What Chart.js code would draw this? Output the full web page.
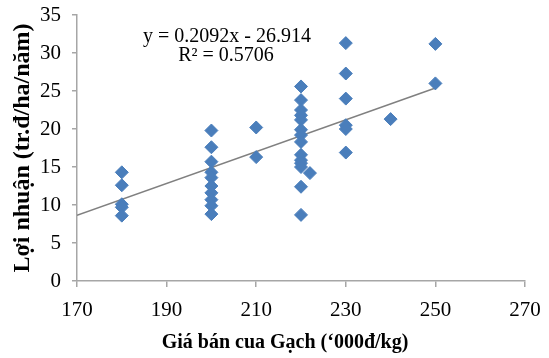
<!DOCTYPE html>
<html lang="vi">
<head>
<meta charset="UTF-8">
<title>Lợi nhuận theo giá bán cua Gạch</title>
<script src="https://cdn.jsdelivr.net/npm/chart.js"></script>
<style>
  html, body { margin: 0; padding: 0; background: #fff; }
  .chart-container { width: 549px; height: 358px; }
</style>
</head>
<body>
<div class="chart-container">
  <canvas id="profitChart"></canvas>
</div>
<script>
// Giá bán (nghìn đồng/kg) và lợi nhuận (tr.đ/ha/năm) của từng hộ
const priceX = [
  180, 180, 180, 180, 180,
  200, 200, 200, 200, 200, 200, 200, 200, 200, 200,
  210, 210,
  220, 220, 220, 220, 220, 220, 220, 220, 220, 220, 220, 220, 220, 220,
  222,
  230, 230, 230, 230, 230, 230,
  240,
  250, 250
];
const profitY = [
  14.3, 12.6, 10.1, 9.7, 8.6,
  19.8, 17.6, 15.7, 14.3, 13.6, 12.5, 11.6, 10.7, 9.9, 8.8,
  20.2, 16.3,
  25.6, 23.8, 22.5, 21.8, 21.2, 19.9, 19.2, 18.3, 16.6, 15.9, 15.5, 15.0, 12.4, 8.7,
  14.2,
  31.3, 27.3, 24.0, 20.5, 20.0, 16.9,
  21.3,
  31.2, 26.0
];

// Đường xu hướng tuyến tính (theo phương trình hiển thị)
const trendSlope = 0.2092;
const trendIntercept = -26.914;
const trendRange = [170, 250];
const trendLabels = ['y = 0.2092x - 26.914', 'R² = 0.5706'];

// Vạch chia trục
const xTicks = [170, 190, 210, 230, 250, 270];
const yTicks = [0, 5, 10, 15, 20, 25, 30, 35];

const xTitle = 'Giá bán cua Gạch (‘000đ/kg)';
const yTitle = 'Lợi nhuận (tr.đ/ha/năm)';

const points = priceX.map((x, i) => ({ x: x, y: profitY[i] }));
const trendPoints = trendRange.map(x => ({ x: x, y: trendSlope * x + trendIntercept }));

const axisColor = '#a6a6a6';
const serif = 'Liberation Serif, Times New Roman, serif';

// Vẽ phương trình hồi quy và tiêu đề trục hoành
const textPlugin = {
  id: 'extraText',
  afterDraw(chart) {
    const ctx = chart.ctx;
    ctx.save();
    ctx.fillStyle = '#000';
    ctx.textAlign = 'center';
    ctx.textBaseline = 'middle';
    ctx.font = '20px ' + serif;
    ctx.fillText(trendLabels[0], 227, 37);
    ctx.fillText(trendLabels[1], 226, 56);
    ctx.font = 'bold 20px ' + serif;
    ctx.fillText(xTitle, 285, 343);
    ctx.restore();
  }
};

new Chart(document.getElementById('profitChart'), {
  type: 'scatter',
  data: {
    datasets: [
      {
        data: trendPoints,
        type: 'line',
        borderColor: '#808080',
        borderWidth: 1.5,
        pointRadius: 0,
        fill: false,
        order: 2
      },
      {
        data: points,
        pointStyle: 'rectRot',
        pointRadius: 6.5,
        pointBackgroundColor: '#4a7ebb',
        pointBorderColor: '#4a7ebb',
        pointBorderWidth: 1,
        order: 1
      }
    ]
  },
  options: {
    responsive: true,
    maintainAspectRatio: false,
    animation: false,
    layout: { padding: { top: 15, right: 24 } },
    plugins: {
      legend: { display: false },
      tooltip: { enabled: false }
    },
    scales: {
      x: {
        type: 'linear',
        min: 170,
        max: 270,
        afterBuildTicks: s => { s.ticks = xTicks.map(v => ({ value: v })); },
        // nhãn đầu/cuối không được đẩy vùng vẽ vào trong
        afterFit: s => { s.height = 77; s.paddingLeft = 0; s.paddingRight = 0; },
        border: { color: axisColor, width: 1.5 },
        grid: { drawOnChartArea: false, color: axisColor, tickLength: 6, lineWidth: 1.5 },
        ticks: { color: '#000', padding: 11, font: { family: serif, size: 21 } }
      },
      y: {
        min: 0,
        max: 35,
        afterBuildTicks: s => { s.ticks = yTicks.map(v => ({ value: v })); },
        afterFit: s => { s.width = 77; s.paddingTop = 0; s.paddingBottom = 0; },
        border: { color: axisColor, width: 1.5 },
        grid: { drawOnChartArea: false, color: axisColor, tickLength: 5, lineWidth: 1.5 },
        ticks: { color: '#000', padding: 11, font: { family: serif, size: 21 } },
        title: {
          display: true,
          text: yTitle,
          color: '#000',
          padding: { top: 8, bottom: 0 },
          font: { family: serif, size: 24, weight: 'bold' }
        }
      }
    }
  },
  plugins: [textPlugin]
});
</script>
</body>
</html>
